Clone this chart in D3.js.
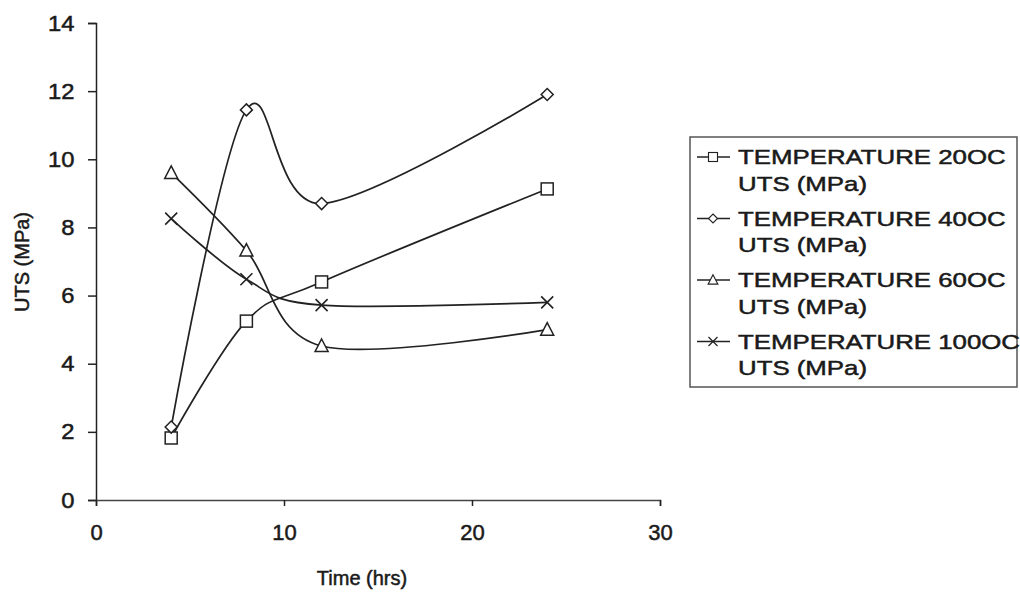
<!DOCTYPE html>
<html>
<head>
<meta charset="utf-8">
<script src="https://cdn.jsdelivr.net/npm/d3@7/dist/d3.min.js"></script>
<style>
  body { margin: 0; background: #fff; }
  text { font-family: "Liberation Sans", Arial, sans-serif; fill: #1a1a1a; stroke: #1a1a1a; stroke-width: 0.5px; }
</style>
</head>
<body>
<svg id="chart" width="1020" height="594"></svg>
<script>
// hours
const times = [4, 8, 12, 24];
const uts20 = [1.82, 5.25, 6.4, 9.13];
const uts40 = [2.14, 11.45, 8.7, 11.9];
const uts60 = [9.6, 7.32, 4.52, 5.0];
const uts100 = [8.26, 6.48, 5.72, 5.8];
const seriesNames = [
  ["TEMPERATURE 20OC", "UTS (MPa)"],
  ["TEMPERATURE 40OC", "UTS (MPa)"],
  ["TEMPERATURE 60OC", "UTS (MPa)"],
  ["TEMPERATURE 100OC", "UTS (MPa)"]
];
const markers = ["square", "diamond", "triangle", "cross"];
const xTicks = [0, 10, 20, 30];
const yTicks = [0, 2, 4, 6, 8, 10, 12, 14];

const series = [uts20, uts40, uts60, uts100].map((vals, i) => ({
  name: seriesNames[i],
  marker: markers[i],
  points: times.map((t, j) => ({ t: t, v: vals[j] }))
}));

const svg = d3.select("#chart");
const ink = "#222";

const x = d3.scaleLinear().domain([0, 30]).range([96, 660]);
const y = d3.scaleLinear().domain([0, 14]).range([500, 23]);

// y axis
const yAxis = svg.append("g")
  .attr("transform", "translate(96,0)")
  .call(d3.axisLeft(y).tickValues(yTicks).tickSize(8).tickPadding(12));
yAxis.select(".domain").attr("stroke", ink).attr("stroke-width", 1.5);
yAxis.selectAll(".tick line").attr("stroke", ink).attr("stroke-width", 1.5);
yAxis.selectAll("text").attr("font-size", 22).attr("fill", "#1a1a1a")
  .attr("font-family", "Liberation Sans, Arial, sans-serif")
  .attr("transform", "scale(1.08,1)");

// x axis
const xAxis = svg.append("g")
  .attr("transform", "translate(0,500)")
  .call(d3.axisBottom(x).tickValues(xTicks).tickSize(6).tickPadding(18));
xAxis.select(".domain").attr("stroke", "#444").attr("stroke-width", 1.5);
xAxis.selectAll(".tick line").attr("stroke", ink).attr("stroke-width", 1.5);
xAxis.selectAll("text").attr("font-size", 22).attr("fill", "#1a1a1a")
  .attr("font-family", "Liberation Sans, Arial, sans-serif");

// axis titles
svg.append("text")
  .attr("transform", "translate(29,262) rotate(-90)")
  .attr("text-anchor", "middle")
  .attr("font-size", 20)
  .text("UTS (MPa)");

svg.append("text")
  .attr("x", 362).attr("y", 585)
  .attr("text-anchor", "middle")
  .attr("font-size", 20)
  .text("Time (hrs)");

// smoothed lines like the spreadsheet
const line = d3.line()
  .x(d => x(d.t))
  .y(d => y(d.v))
  .curve(d3.curveCardinal.tension(0));

svg.selectAll("path.series")
  .data(series)
  .enter()
  .append("path")
  .attr("class", "series")
  .attr("fill", "none")
  .attr("stroke", ink)
  .attr("stroke-width", 1.7)
  .attr("d", d => line(d.points));

function drawMarker(g, type) {
  if (type === "square") {
    g.append("rect").attr("x", -6).attr("y", -6).attr("width", 12).attr("height", 12)
      .attr("fill", "#fff").attr("stroke", ink).attr("stroke-width", 1.5);
  } else if (type === "diamond") {
    g.append("path").attr("d", "M0,-6L6,0L0,6L-6,0Z")
      .attr("fill", "#fff").attr("stroke", ink).attr("stroke-width", 1.5);
  } else if (type === "triangle") {
    g.append("path").attr("d", "M0,-7L6.5,5.5L-6.5,5.5Z")
      .attr("fill", "#fff").attr("stroke", ink).attr("stroke-width", 1.5);
  } else {
    g.append("path").attr("d", "M-6,-6L6,6M-6,6L6,-6")
      .attr("fill", "none").attr("stroke", ink).attr("stroke-width", 1.6);
  }
}

series.forEach(s => {
  s.points.forEach(p => {
    const g = svg.append("g").attr("transform", `translate(${x(p.t)},${y(p.v)})`);
    drawMarker(g, s.marker);
  });
});

// legend
const legend = svg.append("g").attr("transform", "translate(690,137)");
legend.append("rect")
  .attr("x", 0).attr("y", 0).attr("width", 327).attr("height", 250)
  .attr("fill", "#fff").attr("stroke", "#555").attr("stroke-width", 1.5);

series.forEach((s, i) => {
  const g = legend.append("g").attr("transform", `translate(0,${20 + i * 61.5})`);
  g.append("line").attr("x1", 7).attr("x2", 40).attr("y1", 0).attr("y2", 0)
    .attr("stroke", ink).attr("stroke-width", 1.5);
  const m = g.append("g").attr("transform", "translate(23,0) scale(0.75)");
  drawMarker(m, s.marker);
  const t = g.append("g").attr("transform", "translate(48,0) scale(1.23,1)");
  t.append("text").attr("x", 0).attr("y", 7).attr("font-size", 21).text(s.name[0]);
  t.append("text").attr("x", 0).attr("y", 34).attr("font-size", 21).text(s.name[1]);
});
</script>
</body>
</html>
